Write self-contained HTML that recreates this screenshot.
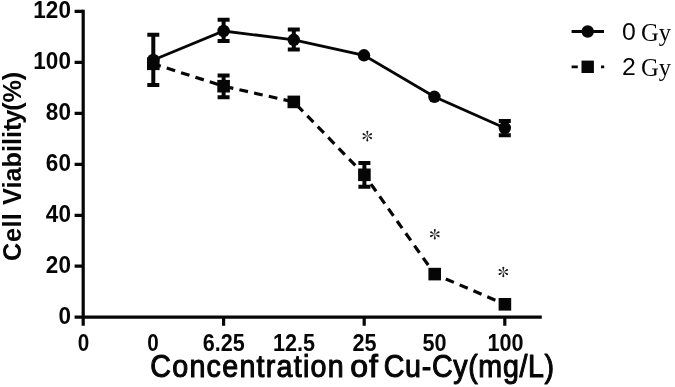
<!DOCTYPE html>
<html><head><meta charset="utf-8">
<style>
html,body{margin:0;padding:0;background:#fff;}
svg{display:block;will-change:transform;filter:blur(0.45px);}
text{font-family:"Liberation Sans",sans-serif;fill:#060606;}
.b{font-weight:bold;}
.s{font-family:"Liberation Serif",serif;}
</style></head><body>
<svg width="675" height="387" viewBox="0 0 675 387">
<rect width="675" height="387" fill="#fff"/>
<g stroke="#060606" stroke-width="3.2" fill="none" stroke-linecap="butt">
<!-- axes -->
<path d="M83.2 9.85V325.8"/>
<path d="M74.6 317.2H541.8"/>
<path d="M74.6 11.4H83.2M74.6 62.4H83.2M74.6 113.3H83.2M74.6 164.3H83.2M74.6 215.3H83.2M74.6 266.2H83.2"/>
<path d="M223.6 317V325.8M364.2 317V325.8M504.8 317V325.8"/>
</g>
<!-- series lines -->
<g stroke="#060606" stroke-width="2.85" fill="none">
<path d="M153.3 60L223.6 31L293.8 39.8L364 55.3L434.4 96.8L504.8 128"/>
<g stroke-dasharray="8.8 6.25" stroke-width="3.2">
<path d="M153.3 63.8L223.6 86.2" stroke-dashoffset="0.95"/>
<path d="M223.6 86.2L293.8 101.9" stroke-dashoffset="-1.15"/>
<path d="M293.8 101.9L364.4 174.8" stroke-dashoffset="-4.35"/>
<path d="M364.4 174.8L434.6 274.1" stroke-dashoffset="3.65"/>
<path d="M434.6 274.1L504.9 304.3" stroke-dashoffset="2.85"/>
</g>
</g>
<!-- error bars -->
<g stroke="#060606" stroke-width="4" fill="none">
<path d="M153.3 34.80V85.00M147.3 34.80H159.3M147.3 85.00H159.3"/>
<path d="M223.6 19.80V41.10M217.6 19.80H229.6M217.6 41.10H229.6"/>
<path d="M293.8 29.60V49.40M287.8 29.60H299.8M287.8 49.40H299.8"/>
<path d="M504.8 120.90V135.20M498.8 120.90H510.8M498.8 135.20H510.8"/>
<path d="M223.6 75.40V97.20M217.6 75.40H229.6M217.6 97.20H229.6"/>
<path d="M364.4 163.00V186.80M358.4 163.00H370.4M358.4 186.80H370.4"/>
</g>
<g fill="#060606">
<circle cx="153.3" cy="60" r="6.2"/><circle cx="223.6" cy="31" r="6.2"/><circle cx="293.8" cy="39.8" r="6.2"/><circle cx="364" cy="55.3" r="6.2"/><circle cx="434.4" cy="96.8" r="6.2"/><circle cx="504.8" cy="128" r="6.2"/>
<rect x="147.0" y="57.5" width="12.6" height="12.6"/>
<rect x="217.3" y="79.9" width="12.6" height="12.6"/>
<rect x="287.5" y="95.6" width="12.6" height="12.6"/>
<rect x="358.1" y="168.5" width="12.6" height="12.6"/>
<rect x="428.4" y="267.8" width="12.6" height="12.6"/>
<rect x="498.6" y="298.0" width="12.6" height="12.6"/>
</g>
<!-- legend -->
<g stroke="#060606" stroke-width="2.8" fill="none">
<path d="M571.6 31.5H604"/>
<path d="M571.6 66.8H577.8M601 66.8H604.2"/>
</g>
<circle cx="587.7" cy="31.5" r="6.2" fill="#060606"/>
<rect x="581.5" y="60.6" width="12.4" height="12.4" fill="#060606"/>
<text transform="translate(622 40.1) scale(1.07 1)" font-size="23.2">0</text>
<text transform="translate(622 75.3) scale(1.07 1)" font-size="23.2">2</text>
<text class="s" x="641" y="40.6" font-size="24.6">Gy</text>
<text class="s" x="641" y="75.8" font-size="24.6">Gy</text>
<!-- asterisks -->
<g fill="#1a1a1a">
<g transform="translate(367.3 136.1)"><path d="M0 0L-1 -4.3A1 1 0 0 1 1 -4.3Z" transform="rotate(0)"/><path d="M0 0L-1 -4.3A1 1 0 0 1 1 -4.3Z" transform="rotate(62)"/><path d="M0 0L-1 -4.3A1 1 0 0 1 1 -4.3Z" transform="rotate(118)"/><path d="M0 0L-1 -4.3A1 1 0 0 1 1 -4.3Z" transform="rotate(180)"/><path d="M0 0L-1 -4.3A1 1 0 0 1 1 -4.3Z" transform="rotate(242)"/><path d="M0 0L-1 -4.3A1 1 0 0 1 1 -4.3Z" transform="rotate(298)"/></g>
<g transform="translate(434.8 234.2)"><path d="M0 0L-1 -4.3A1 1 0 0 1 1 -4.3Z" transform="rotate(0)"/><path d="M0 0L-1 -4.3A1 1 0 0 1 1 -4.3Z" transform="rotate(62)"/><path d="M0 0L-1 -4.3A1 1 0 0 1 1 -4.3Z" transform="rotate(118)"/><path d="M0 0L-1 -4.3A1 1 0 0 1 1 -4.3Z" transform="rotate(180)"/><path d="M0 0L-1 -4.3A1 1 0 0 1 1 -4.3Z" transform="rotate(242)"/><path d="M0 0L-1 -4.3A1 1 0 0 1 1 -4.3Z" transform="rotate(298)"/></g>
<g transform="translate(503.3 272)"><path d="M0 0L-1 -4.3A1 1 0 0 1 1 -4.3Z" transform="rotate(0)"/><path d="M0 0L-1 -4.3A1 1 0 0 1 1 -4.3Z" transform="rotate(62)"/><path d="M0 0L-1 -4.3A1 1 0 0 1 1 -4.3Z" transform="rotate(118)"/><path d="M0 0L-1 -4.3A1 1 0 0 1 1 -4.3Z" transform="rotate(180)"/><path d="M0 0L-1 -4.3A1 1 0 0 1 1 -4.3Z" transform="rotate(242)"/><path d="M0 0L-1 -4.3A1 1 0 0 1 1 -4.3Z" transform="rotate(298)"/></g>
</g>
<!-- y tick labels -->
<g class="b" font-size="23.2" text-anchor="end">
<text transform="translate(70.9 18.1) scale(0.97 1)">120</text>
<text transform="translate(70.9 69.1) scale(0.97 1)">100</text>
<text transform="translate(70.9 120.0) scale(0.97 1)">80</text>
<text transform="translate(70.9 171.0) scale(0.97 1)">60</text>
<text transform="translate(70.9 222.0) scale(0.97 1)">40</text>
<text transform="translate(70.9 272.9) scale(0.97 1)">20</text>
<text transform="translate(70.9 323.9) scale(0.97 1)">0</text>
</g>
<g class="b" font-size="23" text-anchor="middle">
<text transform="translate(83.6 350.9) scale(0.9 1)">0</text>
<text transform="translate(153 350.9) scale(0.9 1)">0</text>
<text transform="translate(223.8 350.9) scale(0.94 1)">6.25</text>
<text transform="translate(294 350.9) scale(0.94 1)">12.5</text>
<text transform="translate(364.4 350.9) scale(0.94 1)">25</text>
<text transform="translate(434.4 350.9) scale(0.94 1)">50</text>
<text transform="translate(505.5 350.9) scale(0.94 1)">100</text>
</g>
<g font-size="30.8" stroke="#060606" stroke-width="1.05" stroke-linejoin="round">
<text transform="translate(150.3 377.1) scale(0.93 1)" textLength="208.0" lengthAdjust="spacing">Concentration</text>
<text transform="translate(350.3 377.1) scale(1.04 1)" dx="0 0.9">of</text>
<text transform="translate(383.8 377.1) scale(0.93 1)" textLength="183.2" lengthAdjust="spacing">Cu-Cy(mg/L)</text>
</g>
<text class="b" transform="translate(20.6 260.9) rotate(-90)" font-size="25.25" dx="0 0.7 0.3 0.3 0.6 0.7 0 0 0 0 0 0 0 -1.1 -1 -0.3 -0.2">Cell Viability(%)</text>
</svg>
</body></html>
